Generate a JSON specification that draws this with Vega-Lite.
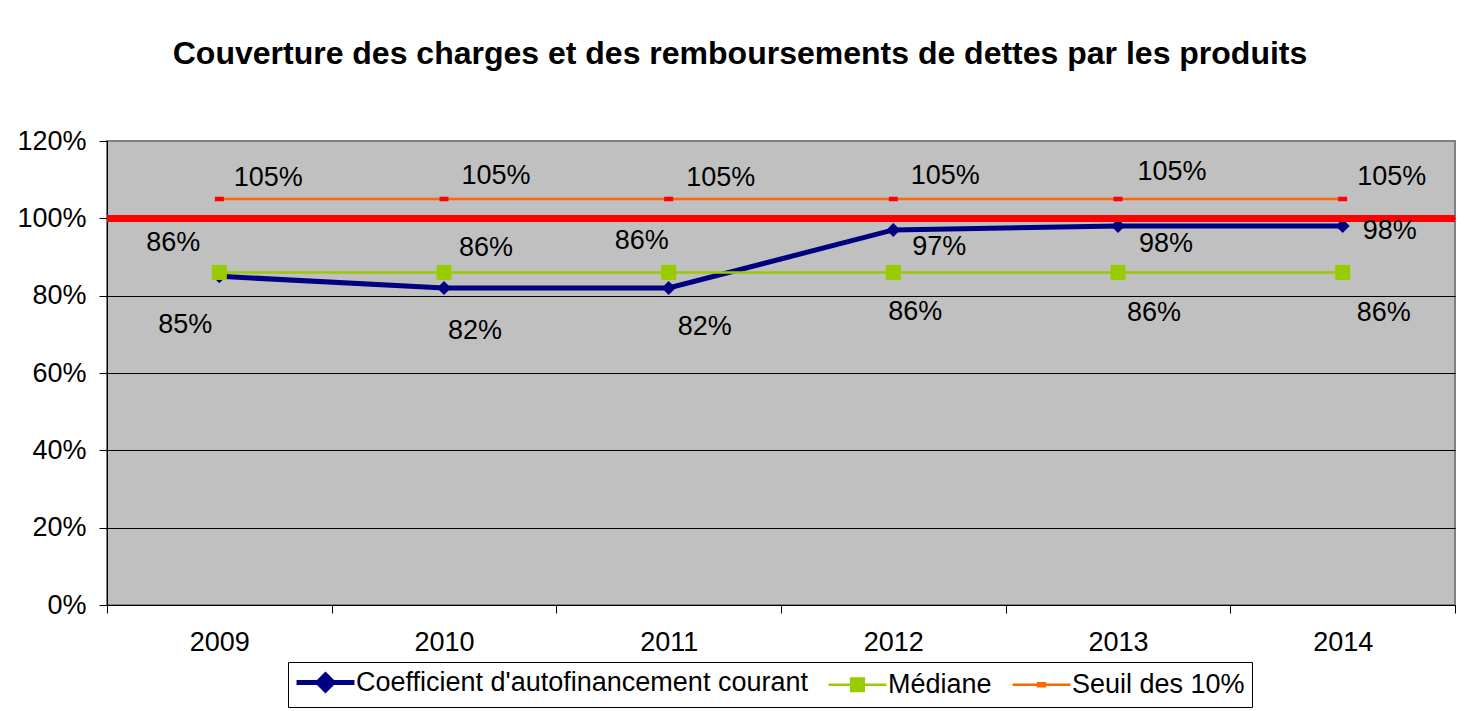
{
  "$schema": "https://vega.github.io/schema/vega-lite/v6.json",
  "width": 1348,
  "height": 464,
  "autosize": {"type": "none"},
  "padding": {"left": 107, "top": 141, "right": 9, "bottom": 106},
  "background": "white",
  "title": {
    "text": "Couverture des charges et des remboursements de dettes par les produits",
    "font": "Liberation Sans",
    "fontSize": 32,
    "fontWeight": "bold",
    "color": "#000000",
    "anchor": "middle",
    "frame": "group",
    "baseline": "alphabetic",
    "dx": -41,
    "offset": 31
  },
  "data": {
    "values": [
      {"year": "2009", "series": "Coefficient d'autofinancement courant", "value": 0.85},
      {"year": "2010", "series": "Coefficient d'autofinancement courant", "value": 0.82},
      {"year": "2011", "series": "Coefficient d'autofinancement courant", "value": 0.82},
      {"year": "2012", "series": "Coefficient d'autofinancement courant", "value": 0.97},
      {"year": "2013", "series": "Coefficient d'autofinancement courant", "value": 0.98},
      {"year": "2014", "series": "Coefficient d'autofinancement courant", "value": 0.98},
      {"year": "2009", "series": "Médiane", "value": 0.86},
      {"year": "2010", "series": "Médiane", "value": 0.86},
      {"year": "2011", "series": "Médiane", "value": 0.86},
      {"year": "2012", "series": "Médiane", "value": 0.86},
      {"year": "2013", "series": "Médiane", "value": 0.86},
      {"year": "2014", "series": "Médiane", "value": 0.86},
      {"year": "2009", "series": "Seuil des 10%", "value": 1.05},
      {"year": "2010", "series": "Seuil des 10%", "value": 1.05},
      {"year": "2011", "series": "Seuil des 10%", "value": 1.05},
      {"year": "2012", "series": "Seuil des 10%", "value": 1.05},
      {"year": "2013", "series": "Seuil des 10%", "value": 1.05},
      {"year": "2014", "series": "Seuil des 10%", "value": 1.05}
    ]
  },
  "encoding": {
    "x": {
      "field": "year",
      "type": "ordinal",
      "scale": {"type": "band", "paddingInner": 0, "paddingOuter": 0},
      "axis": {
        "title": null,
        "labelAngle": 0,
        "tickBand": "extent",
        "tickSize": 8,
        "tickColor": "#000000",
        "domainColor": "#000000",
        "labelFontSize": 27,
        "labelFont": "Liberation Sans",
        "labelColor": "#000000",
        "labelPadding": 16,
        "grid": false
      }
    },
    "y": {
      "field": "value",
      "type": "quantitative",
      "scale": {"domain": [0, 1.2], "nice": false, "zero": true},
      "axis": {
        "title": null,
        "values": [0, 0.2, 0.4, 0.6, 0.8, 1, 1.2],
        "format": ".0%",
        "tickSize": 8,
        "tickColor": "#000000",
        "domainColor": "#000000",
        "labelFontSize": 27,
        "labelFont": "Liberation Sans",
        "labelColor": "#000000",
        "labelPadding": 13,
        "grid": true,
        "gridColor": {"condition": {"test": "datum.value === 1.2", "value": "#808080"}, "value": "#000000"},
        "gridWidth": 1
      }
    }
  },
  "layer": [
    {
      "transform": [{"filter": {"field": "series", "equal": "Coefficient d'autofinancement courant"}}],
      "mark": {"type": "line", "strokeWidth": 5},
      "encoding": {
        "color": {
          "field": "series",
          "type": "nominal",
          "scale": {
            "domain": ["Coefficient d'autofinancement courant", "Médiane", "Seuil des 10%"],
            "range": ["#000080", "#99CC00", "#FF6600"]
          },
          "legend": {
            "title": null,
            "orient": "none",
            "direction": "horizontal",
            "legendX": 181,
            "legendY": 521,
            "strokeColor": "#000000",
            "fillColor": "#FFFFFF",
            "padding": 7,
            "columnPadding": 15,
            "labelOffset": 17,
            "symbolOffset": 17,
            "symbolSize": 529,
            "labelFont": "Liberation Sans",
            "labelFontSize": 27,
            "labelColor": "#000000",
            "labelLimit": 1000,
            "encode": {
              "symbols": {
                "update": {
                  "shape": {"signal": "datum.value === 'Médiane' ? 'M-2.52,0H2.52M-0.55,-0.55H0.55V0.55H-0.55Z' : datum.value === 'Seuil des 10%' ? 'M-2.52,0H2.52M-0.3,-0.14H0.3V0.14H-0.3Z' : 'M-2.52,0H2.52M0,-0.65L0.65,0L0,0.65L-0.65,0Z'"},
                  "fill": {"signal": "datum.value === 'Médiane' ? '#99CC00' : datum.value === 'Seuil des 10%' ? '#FF0000' : '#000080'"},
                  "stroke": {"signal": "datum.value === 'Médiane' ? '#99CC00' : datum.value === 'Seuil des 10%' ? '#FF6600' : '#000080'"},
                  "strokeWidth": {"signal": "datum.value === 'Médiane' || datum.value === 'Seuil des 10%' ? 2.5 : 5"},
                  "opacity": {"value": 1},
                  "fillOpacity": {"value": 1},
                  "strokeOpacity": {"value": 1}
                }
              }
            }
          }
        }
      }
    },
    {
      "transform": [{"filter": {"field": "series", "equal": "Coefficient d'autofinancement courant"}}],
      "mark": {"type": "point", "shape": "diamond", "filled": true, "size": 196, "color": "#000080", "opacity": 1}
    },
    {
      "transform": [{"filter": {"field": "series", "equal": "Médiane"}}],
      "mark": {"type": "line", "strokeWidth": 2.5},
      "encoding": {"color": {"field": "series", "type": "nominal"}}
    },
    {
      "transform": [{"filter": {"field": "series", "equal": "Médiane"}}],
      "mark": {"type": "point", "shape": "square", "filled": true, "size": 225, "color": "#99CC00", "opacity": 1}
    },
    {
      "transform": [{"filter": {"field": "series", "equal": "Seuil des 10%"}}],
      "mark": {"type": "line", "strokeWidth": 2.5},
      "encoding": {"color": {"field": "series", "type": "nominal"}}
    },
    {
      "transform": [{"filter": {"field": "series", "equal": "Seuil des 10%"}}],
      "mark": {"type": "point", "shape": "M-1,-0.5H1V0.5H-1Z", "filled": true, "size": 81, "color": "#FF0000", "opacity": 1}
    },
    {
      "mark": {"type": "rule", "color": "#FF0000", "strokeWidth": 6},
      "encoding": {"y": {"datum": 1}, "x": null}
    },
    {
      "transform": [{"filter": {"field": "series", "equal": "Coefficient d'autofinancement courant"}}],
      "mark": {
        "type": "text", "font": "Liberation Sans", "fontSize": 27, "color": "#000000", "align": "center", "baseline": "middle",
        "dx": {"expr": "[-34,31,36,46,48,47][toNumber(datum.year) - 2009]"},
        "dy": {"expr": "[49,43,39,17,18,5][toNumber(datum.year) - 2009]"}
      },
      "encoding": {"text": {"field": "value", "type": "quantitative", "format": ".0%"}}
    },
    {
      "transform": [{"filter": {"field": "series", "equal": "Médiane"}}],
      "mark": {
        "type": "text", "font": "Liberation Sans", "fontSize": 27, "color": "#000000", "align": "center", "baseline": "middle",
        "dx": {"expr": "[-46,42,-27,22,36,41][toNumber(datum.year) - 2009]"},
        "dy": {"expr": "[-29,-24,-31,40,41,41][toNumber(datum.year) - 2009]"}
      },
      "encoding": {"text": {"field": "value", "type": "quantitative", "format": ".0%"}}
    },
    {
      "transform": [{"filter": {"field": "series", "equal": "Seuil des 10%"}}],
      "mark": {
        "type": "text", "font": "Liberation Sans", "fontSize": 27, "color": "#000000", "align": "center", "baseline": "middle",
        "dx": {"expr": "[49,52,52,52,54,49][toNumber(datum.year) - 2009]"},
        "dy": {"expr": "[-21,-23,-21,-23,-27,-22][toNumber(datum.year) - 2009]"}
      },
      "encoding": {"text": {"field": "value", "type": "quantitative", "format": ".0%"}}
    }
  ],
  "config": {
    "view": {"fill": "#C0C0C0", "stroke": "#808080", "strokeWidth": 2},
    "font": "Liberation Sans"
  }
}
